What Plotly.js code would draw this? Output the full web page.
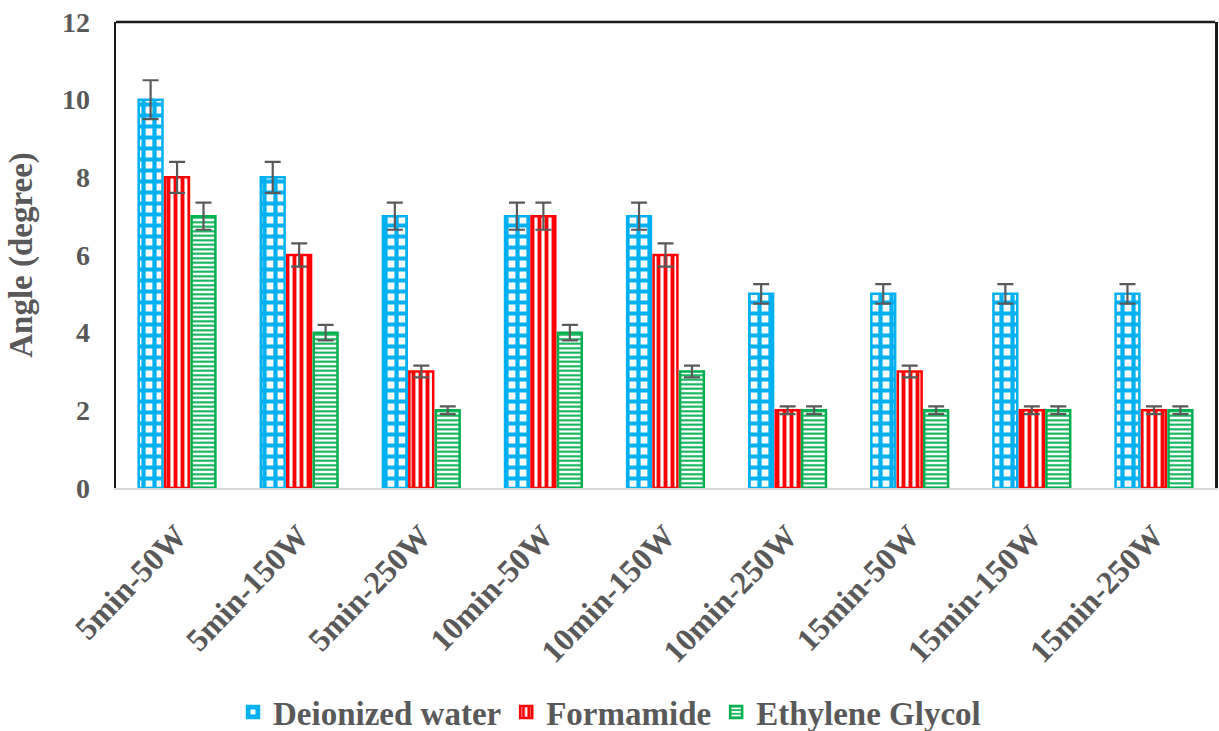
<!DOCTYPE html>
<html>
<head>
<meta charset="utf-8">
<script src="https://cdn.plot.ly/plotly-3.0.1.min.js"></script>
<style>
  html, body { margin: 0; padding: 0; background: #ffffff; }
  #chart { width: 1219px; height: 731px; }
</style>
</head>
<body>
<div id="chart"></div>
<script>
// Treatment conditions (time - power)
const categories = ['5min-50W', '5min-150W', '5min-250W', '10min-50W', '10min-150W',
                    '10min-250W', '15min-50W', '15min-150W', '15min-250W'];

// Contact angle per probe liquid (degree)
const deionizedWater = [10, 8, 7, 7, 7, 5, 5, 5, 5];
const formamide      = [8, 6, 3, 7, 6, 2, 3, 2, 2];
const ethyleneGlycol = [7, 4, 2, 4, 3, 2, 2, 2, 2];

// Standard deviations
const deionizedWaterErr = [0.5, 0.4, 0.35, 0.35, 0.35, 0.25, 0.25, 0.25, 0.25];
const formamideErr      = [0.4, 0.3, 0.15, 0.35, 0.3, 0.1, 0.15, 0.1, 0.1];
const ethyleneGlycolErr = [0.35, 0.2, 0.1, 0.2, 0.15, 0.1, 0.1, 0.1, 0.1];

const seriesNames = ['Deionized water', 'Formamide', 'Ethylene Glycol'];
const yTicks = [0, 2, 4, 6, 8, 10, 12];

const textGray = '#595959';
const fontFamily = 'Liberation Serif, Tinos, Times New Roman, DejaVu Serif, serif';

function barTrace(name, values, errors, color, shape, size, solidity) {
  return {
    type: 'bar',
    name: name,
    x: categories,
    y: values,
    error_y: { type: 'data', array: errors, visible: true, color: textGray, thickness: 2.2, width: 8 },
    marker: {
      color: '#ffffff',
      line: { color: color, width: 2.5 },
      pattern: { shape: shape, fgcolor: color, bgcolor: '#ffffff', size: size, solidity: solidity, fillmode: 'replace' }
    }
  };
}

const data = [
  barTrace(seriesNames[0], deionizedWater, deionizedWaterErr, '#00b0f0', '+', 11, 0.62),
  barTrace(seriesNames[1], formamide, formamideErr, '#ff0000', '|', 7, 0.55),
  barTrace(seriesNames[2], ethyleneGlycol, ethyleneGlycolErr, '#00b050', '-', 4.5, 0.45)
];

const layout = {
  width: 1219,
  height: 731,
  margin: { l: 116, r: 4, t: 22, b: 243 },
  paper_bgcolor: '#ffffff',
  plot_bgcolor: '#ffffff',
  barmode: 'group',
  bargap: 0.35,
  bargroupgap: 0.1,
  showlegend: true,
  font: { family: fontFamily, color: textGray, size: 26 },
  xaxis: {
    type: 'category',
    automargin: false,
    tickangle: -46,
    showgrid: false,
    showline: true,
    linecolor: '#d9d9d9',
    linewidth: 1.5,
    ticks: '',
    ticklabelstandoff: 15,
    tickfont: { family: fontFamily, size: 32, color: textGray, weight: 'bold' }
  },
  yaxis: {
    range: [0, 12],
    automargin: false,
    tickvals: yTicks,
    ticktext: yTicks.map(String),
    showgrid: false,
    zeroline: false,
    showline: true,
    mirror: true,
    linecolor: '#1a1a1a',
    linewidth: 2.5,
    ticks: '',
    ticklabelstandoff: 18,
    tickfont: { family: fontFamily, size: 28, color: textGray, weight: 'bold' },
    title: { text: 'Angle (degree)', standoff: 20, font: { family: fontFamily, size: 33, color: textGray, weight: 'bold' } }
  },
  legend: {
    orientation: 'h',
    xref: 'container',
    yref: 'container',
    x: 0.5,
    xanchor: 'center',
    y: 0.026,
    yanchor: 'middle',
    font: { family: fontFamily, size: 33, color: textGray, weight: 'bold' },
    itemwidth: 30
  },
  shapes: [
    { type: 'line', xref: 'paper', yref: 'paper', x0: 0, x1: 1, y0: 1, y1: 1,
      line: { color: '#1a1a1a', width: 2.5 } }
  ]
};

Plotly.newPlot('chart', data, layout, { displayModeBar: false, staticPlot: true });
</script>
</body>
</html>
